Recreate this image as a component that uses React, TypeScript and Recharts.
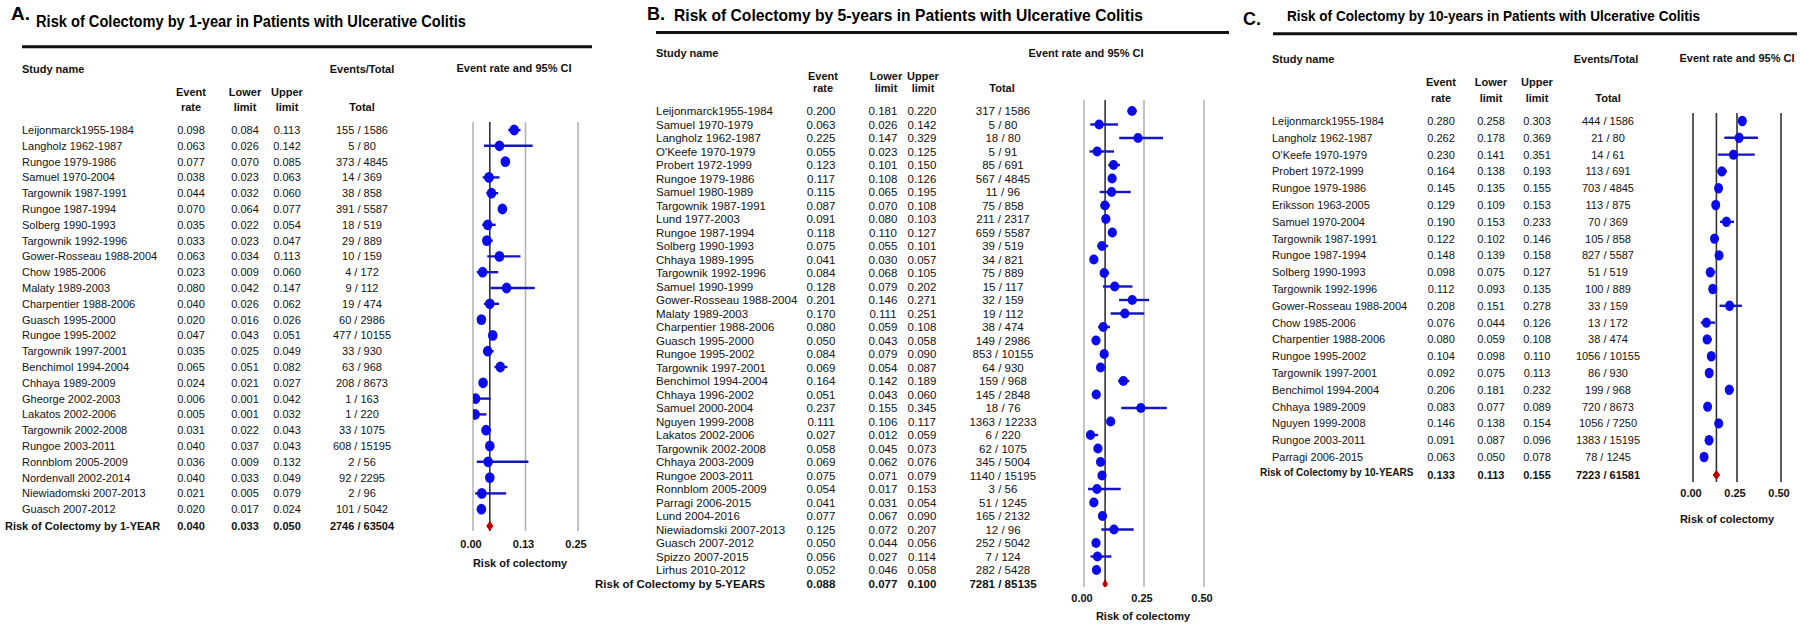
import React from 'react';
import { ComposedChart, Scatter, ErrorBar, XAxis, YAxis, ReferenceLine } from 'recharts';

const FONT = "'Liberation Sans', Arial, Helvetica, sans-serif";
const DOT = '#0b0bea';
const CI = '#1414c0';
const DIAMOND = '#c00000';

// ---- A: 1 year
const studyA = [
  'Leijonmarck1955-1984', 'Langholz 1962-1987', 'Rungoe 1979-1986', 'Samuel 1970-2004',
  'Targownik 1987-1991', 'Rungoe 1987-1994', 'Solberg 1990-1993', 'Targownik 1992-1996',
  'Gower-Rosseau 1988-2004', 'Chow 1985-2006', 'Malaty 1989-2003', 'Charpentier 1988-2006',
  'Guasch 1995-2000', 'Rungoe 1995-2002', 'Targownik 1997-2001', 'Benchimol 1994-2004',
  'Chhaya 1989-2009', 'Gheorge 2002-2003', 'Lakatos 2002-2006', 'Targownik 2002-2008',
  'Rungoe 2003-2011', 'Ronnblom 2005-2009', 'Nordenvall 2002-2014', 'Niewiadomski 2007-2013',
  'Guasch 2007-2012',
];
const rateA = [0.098, 0.063, 0.077, 0.038, 0.044, 0.070, 0.035, 0.033, 0.063, 0.023, 0.080, 0.040, 0.020, 0.047, 0.035, 0.065, 0.024, 0.006, 0.005, 0.031, 0.040, 0.036, 0.040, 0.021, 0.020];
const lowerA = [0.084, 0.026, 0.070, 0.023, 0.032, 0.064, 0.022, 0.023, 0.034, 0.009, 0.042, 0.026, 0.016, 0.043, 0.025, 0.051, 0.021, 0.001, 0.001, 0.022, 0.037, 0.009, 0.033, 0.005, 0.017];
const upperA = [0.113, 0.142, 0.085, 0.063, 0.060, 0.077, 0.054, 0.047, 0.113, 0.060, 0.147, 0.062, 0.026, 0.051, 0.049, 0.082, 0.027, 0.042, 0.032, 0.043, 0.043, 0.132, 0.049, 0.079, 0.024];
const eventsA = [
  '155 / 1586', '5 / 80', '373 / 4845', '14 / 369', '38 / 858', '391 / 5587', '18 / 519',
  '29 / 889', '10 / 159', '4 / 172', '9 / 112', '19 / 474', '60 / 2986', '477 / 10155',
  '33 / 930', '63 / 968', '208 / 8673', '1 / 163', '1 / 220', '33 / 1075', '608 / 15195',
  '2 / 56', '92 / 2295', '2 / 96', '101 / 5042',
];
const pooledA = [0.040, 0.033, 0.050];
const pooledEventsA = '2746 / 63504';
const ticksA = [0, 0.125, 0.25];
const tickLabelsA = ['0.00', '0.13', '0.25'];

// ---- B: 5 years
const studyB = [
  'Leijonmarck1955-1984', 'Samuel 1970-1979', 'Langholz 1962-1987', "O'Keefe 1970-1979",
  'Probert 1972-1999', 'Rungoe 1979-1986', 'Samuel 1980-1989', 'Targownik 1987-1991',
  'Lund 1977-2003', 'Rungoe 1987-1994', 'Solberg 1990-1993', 'Chhaya 1989-1995',
  'Targownik 1992-1996', 'Samuel 1990-1999', 'Gower-Rosseau 1988-2004', 'Malaty 1989-2003',
  'Charpentier 1988-2006', 'Guasch 1995-2000', 'Rungoe 1995-2002', 'Targownik 1997-2001',
  'Benchimol 1994-2004', 'Chhaya 1996-2002', 'Samuel 2000-2004', 'Nguyen 1999-2008',
  'Lakatos 2002-2006', 'Targownik 2002-2008', 'Chhaya 2003-2009', 'Rungoe 2003-2011',
  'Ronnblom 2005-2009', 'Parragi 2006-2015', 'Lund 2004-2016', 'Niewiadomski 2007-2013',
  'Guasch 2007-2012', 'Spizzo 2007-2015', 'Lirhus 2010-2012',
];
const rateB = [0.200, 0.063, 0.225, 0.055, 0.123, 0.117, 0.115, 0.087, 0.091, 0.118, 0.075, 0.041, 0.084, 0.128, 0.201, 0.170, 0.080, 0.050, 0.084, 0.069, 0.164, 0.051, 0.237, 0.111, 0.027, 0.058, 0.069, 0.075, 0.054, 0.041, 0.077, 0.125, 0.050, 0.056, 0.052];
const lowerB = [0.181, 0.026, 0.147, 0.023, 0.101, 0.108, 0.065, 0.070, 0.080, 0.110, 0.055, 0.030, 0.068, 0.079, 0.146, 0.111, 0.059, 0.043, 0.079, 0.054, 0.142, 0.043, 0.155, 0.106, 0.012, 0.045, 0.062, 0.071, 0.017, 0.031, 0.067, 0.072, 0.044, 0.027, 0.046];
const upperB = [0.220, 0.142, 0.329, 0.125, 0.150, 0.126, 0.195, 0.108, 0.103, 0.127, 0.101, 0.057, 0.105, 0.202, 0.271, 0.251, 0.108, 0.058, 0.090, 0.087, 0.189, 0.060, 0.345, 0.117, 0.059, 0.073, 0.076, 0.079, 0.153, 0.054, 0.090, 0.207, 0.056, 0.114, 0.058];
const eventsB = [
  '317 / 1586', '5 / 80', '18 / 80', '5 / 91', '85 / 691', '567 / 4845', '11 / 96', '75 / 858',
  '211 / 2317', '659 / 5587', '39 / 519', '34 / 821', '75 / 889', '15 / 117', '32 / 159',
  '19 / 112', '38 / 474', '149 / 2986', '853 / 10155', '64 / 930', '159 / 968', '145 / 2848',
  '18 / 76', '1363 / 12233', '6 / 220', '62 / 1075', '345 / 5004', '1140 / 15195', '3 / 56',
  '51 / 1245', '165 / 2132', '12 / 96', '252 / 5042', '7 / 124', '282 / 5428',
];
const pooledB = [0.088, 0.077, 0.100];
const pooledEventsB = '7281 / 85135';
const ticksB = [0, 0.25, 0.5];
const tickLabelsB = ['0.00', '0.25', '0.50'];

// ---- C: 10 years
const studyC = [
  'Leijonmarck1955-1984', 'Langholz  1962-1987', "O'Keefe 1970-1979", 'Probert 1972-1999',
  'Rungoe  1979-1986', 'Eriksson 1963-2005', 'Samuel 1970-2004', 'Targownik 1987-1991',
  'Rungoe  1987-1994', 'Solberg 1990-1993', 'Targownik 1992-1996', 'Gower-Rosseau 1988-2004',
  'Chow 1985-2006', 'Charpentier 1988-2006', 'Rungoe 1995-2002', 'Targownik 1997-2001',
  'Benchimol 1994-2004', 'Chhaya 1989-2009', 'Nguyen 1999-2008', 'Rungoe 2003-2011',
  'Parragi 2006-2015',
];
const rateC = [0.280, 0.262, 0.230, 0.164, 0.145, 0.129, 0.190, 0.122, 0.148, 0.098, 0.112, 0.208, 0.076, 0.080, 0.104, 0.092, 0.206, 0.083, 0.146, 0.091, 0.063];
const lowerC = [0.258, 0.178, 0.141, 0.138, 0.135, 0.109, 0.153, 0.102, 0.139, 0.075, 0.093, 0.151, 0.044, 0.059, 0.098, 0.075, 0.181, 0.077, 0.138, 0.087, 0.050];
const upperC = [0.303, 0.369, 0.351, 0.193, 0.155, 0.153, 0.233, 0.146, 0.158, 0.127, 0.135, 0.278, 0.126, 0.108, 0.110, 0.113, 0.232, 0.089, 0.154, 0.096, 0.078];
const eventsC = [
  '444 / 1586', '21 / 80', '14 / 61', '113 / 691', '703 / 4845', '113 / 875', '70 / 369',
  '105 / 858', '827 / 5587', '51 / 519', '100 / 889', '33 / 159', '13 / 172', '38 / 474',
  '1056 / 10155', '86 / 930', '199 / 968', '720 / 8673', '1056 / 7250', '1383 / 15195', '78 / 1245',
];
const pooledC = [0.133, 0.113, 0.155];
const pooledEventsC = '7223 / 61581';
const ticksC = [0, 0.25, 0.5];
const tickLabelsC = ['0.00', '0.25', '0.50'];

type Lay = {
  left: number; width: number;
  plotLeft: number; plotRight: number; plotTop: number; plotBottom: number;
  row0: number; step: number; pooledRow: number;
  name: number; pooledName: number; rate: number; lower: number; upper: number; events: number;
  fs: number; pooledFs: number; pooledDy: number;
  grid: string[]; pooledLine: string; tickDy: number; rx: number; ry: number;
};

const layA: Lay = {
  left: 0, width: 600, plotLeft: 473, plotRight: 578, plotTop: 122, plotBottom: 531,
  row0: 130, step: 15.8, pooledRow: 526,
  name: 22, pooledName: 5, rate: 191, lower: 245, upper: 287, events: 362,
  fs: 11, pooledFs: 11, pooledDy: 0,
  grid: ['#b4b4b4', '#b4b4b4', '#b4b4b4'], pooledLine: '#333', tickDy: 17, rx: 4.8, ry: 5.4,
};
const layB: Lay = {
  left: 590, width: 650, plotLeft: 1084, plotRight: 1204, plotTop: 100, plotBottom: 587,
  row0: 111, step: 13.5, pooledRow: 584,
  name: 656, pooledName: 595, rate: 821, lower: 883, upper: 922, events: 1003,
  fs: 11.5, pooledFs: 11.5, pooledDy: 0,
  grid: ['#b4b4b4', '#b4b4b4', '#b4b4b4'], pooledLine: '#333', tickDy: 15, rx: 4.6, ry: 5,
};
const layC: Lay = {
  left: 1210, width: 590, plotLeft: 1693, plotRight: 1781, plotTop: 113, plotBottom: 482,
  row0: 121, step: 16.8, pooledRow: 475,
  name: 1272, pooledName: 1260, rate: 1441, lower: 1491, upper: 1537, events: 1608,
  fs: 11, pooledFs: 10, pooledDy: -3,
  grid: ['#333', '#333', '#333'], pooledLine: '#333', tickDy: 15, rx: 4.5, ry: 5.2,
};

type PanelProps = {
  lay: Lay; names: string[]; rate: number[]; lower: number[]; upper: number[]; events: string[];
  pooled: number[]; pooledEvents: string; pooledLabel: string; ticks: number[]; tickLabels: string[];
};

function ForestPanel({ lay, names, rate, lower, upper, events, pooled, pooledEvents, pooledLabel, ticks, tickLabels }: PanelProps) {
  const maxX = ticks[ticks.length - 1];
  const rows = names.map((n, i) => ({ x: rate[i], y: i, err: [rate[i] - lower[i], upper[i] - rate[i]] }));
  const pooledY = (lay.pooledRow - lay.row0) / lay.step;
  const yMin = (lay.plotTop - lay.row0) / lay.step;
  const yMax = (lay.plotBottom - lay.row0) / lay.step;
  const pooledData = [{ x: pooled[0], y: pooledY, lo: pooled[1], hi: pooled[2] }];
  const pxPerUnit = (lay.plotRight - lay.plotLeft) / maxX;
  const xH = 30;
  const margin = { top: lay.plotTop, right: lay.left + lay.width - lay.plotRight, bottom: 632 - lay.plotBottom - xH, left: 0 };
  const yTicks = [...rows.map((r) => r.y), pooledY];
  const L = lay.left;

  const rowTick = (p: any) => {
    const v = p.payload.value;
    const y = p.y;
    const isPooled = Math.abs(v - pooledY) < 1e-6;
    const i = Math.round(v);
    const vals = isPooled ? pooled : [rate[i], lower[i], upper[i]];
    const fw = isPooled ? 'bold' : 'normal';
    const common = { fontFamily: FONT, fontSize: lay.fs, fill: '#111', fontWeight: fw, dy: '0.36em' } as any;
    return (
      <g>
        {isPooled ? (
          <text x={lay.pooledName - L} y={y + lay.pooledDy} {...common} fontSize={lay.pooledFs}>{pooledLabel}</text>
        ) : (
          <text x={lay.name - L} y={y} {...common}>{names[i]}</text>
        )}
        <text x={lay.rate - L} y={y} textAnchor="middle" {...common}>{vals[0].toFixed(3)}</text>
        <text x={lay.lower - L} y={y} textAnchor="middle" {...common}>{vals[1].toFixed(3)}</text>
        <text x={lay.upper - L} y={y} textAnchor="middle" {...common}>{vals[2].toFixed(3)}</text>
        <text x={lay.events - L} y={y} textAnchor="middle" {...common}>{isPooled ? pooledEvents : events[i]}</text>
      </g>
    );
  };

  const xTick = (p: any) => (
    <text x={p.x - 2} y={p.y + lay.tickDy} textAnchor="middle" fontFamily={FONT} fontSize={11} fontWeight="bold" fill="#111">
      {tickLabels[p.index]}
    </text>
  );

  const dot = (p: any) => <ellipse cx={p.cx} cy={p.cy} rx={lay.rx} ry={lay.ry} fill={DOT} />;
  const diamond = (p: any) => {
    const hw = Math.max(2.5, ((p.payload.hi - p.payload.lo) / 2) * pxPerUnit);
    const hh = 5;
    return <polygon points={`${p.cx - hw},${p.cy} ${p.cx},${p.cy - hh} ${p.cx + hw},${p.cy} ${p.cx},${p.cy + hh}`} fill={DIAMOND} />;
  };

  return (
    <div style={{ position: 'absolute', left: lay.left, top: 0 }}>
      <ComposedChart width={lay.width} height={632} margin={margin}>
        <XAxis type="number" dataKey="x" domain={[0, maxX]} ticks={ticks} allowDataOverflow interval={0}
          axisLine={false} tickLine={false} tickSize={0} tickMargin={0} height={xH} tick={xTick} />
        <YAxis type="number" dataKey="y" domain={[yMin, yMax]} reversed allowDataOverflow ticks={yTicks} interval={0}
          width={lay.plotLeft - lay.left} axisLine={false} tickLine={false} tickSize={0} tickMargin={0} tick={rowTick} />
        {ticks.map((t, i) => (
          <ReferenceLine key={i} x={t} stroke={lay.grid[i]} strokeWidth={1.6} />
        ))}
        <ReferenceLine x={pooled[0]} stroke={lay.pooledLine} strokeWidth={1.6} />
        <Scatter data={rows} isAnimationActive={false} shape={dot}>
          <ErrorBar dataKey="err" direction="x" width={0} stroke={CI} strokeWidth={2.4} />
        </Scatter>
        <Scatter data={pooledData} isAnimationActive={false} shape={diamond} />
      </ComposedChart>
    </div>
  );
}

const hdr = { fontFamily: FONT, fontSize: 11, fontWeight: 'bold', fill: '#111' } as any;

function Overlay() {
  return (
    <svg width={1800} height={632} style={{ position: 'absolute', left: 0, top: 0, pointerEvents: 'none' }}>
      {/* A */}
      <text x={11} y={20} fontFamily={FONT} fontSize={19} fontWeight="bold">A.</text>
      <text x={36} y={26.5} fontFamily={FONT} fontSize={16} fontWeight="bold" textLength={430} lengthAdjust="spacingAndGlyphs">
        Risk of Colectomy by 1-year in Patients with Ulcerative Colitis
      </text>
      <line x1={22} x2={592} y1={46.7} y2={46.7} stroke="#111" strokeWidth={3} />
      <text x={22} y={73} {...hdr}>Study name</text>
      <text x={362} y={73} textAnchor="middle" {...hdr}>Events/Total</text>
      <text x={514} y={72} textAnchor="middle" {...hdr}>Event rate and 95% CI</text>
      <text x={191} y={96} textAnchor="middle" {...hdr}>Event</text>
      <text x={191} y={111} textAnchor="middle" {...hdr}>rate</text>
      <text x={245} y={96} textAnchor="middle" {...hdr}>Lower</text>
      <text x={245} y={111} textAnchor="middle" {...hdr}>limit</text>
      <text x={287} y={96} textAnchor="middle" {...hdr}>Upper</text>
      <text x={287} y={111} textAnchor="middle" {...hdr}>limit</text>
      <text x={362} y={111} textAnchor="middle" {...hdr}>Total</text>
      <text x={520} y={567} textAnchor="middle" {...hdr}>Risk of colectomy</text>

      {/* B */}
      <text x={647} y={20} fontFamily={FONT} fontSize={18} fontWeight="bold">B.</text>
      <text x={674} y={20.7} fontFamily={FONT} fontSize={17} fontWeight="bold" textLength={469} lengthAdjust="spacingAndGlyphs">
        Risk of Colectomy by 5-years in Patients with Ulcerative Colitis
      </text>
      <line x1={656} x2={1229} y1={32.6} y2={32.6} stroke="#111" strokeWidth={3} />
      <text x={656} y={57} {...hdr}>Study name</text>
      <text x={1086} y={57} textAnchor="middle" {...hdr}>Event rate and 95% CI</text>
      <text x={823} y={80} textAnchor="middle" {...hdr}>Event</text>
      <text x={823} y={92} textAnchor="middle" {...hdr}>rate</text>
      <text x={886} y={80} textAnchor="middle" {...hdr}>Lower</text>
      <text x={886} y={92} textAnchor="middle" {...hdr}>limit</text>
      <text x={923} y={80} textAnchor="middle" {...hdr}>Upper</text>
      <text x={923} y={92} textAnchor="middle" {...hdr}>limit</text>
      <text x={1002} y={92} textAnchor="middle" {...hdr}>Total</text>
      <text x={1143} y={620} textAnchor="middle" {...hdr}>Risk of colectomy</text>

      {/* C */}
      <text x={1243} y={25} fontFamily={FONT} fontSize={18} fontWeight="bold">C.</text>
      <text x={1287} y={20.7} fontFamily={FONT} fontSize={15} fontWeight="bold" textLength={413} lengthAdjust="spacingAndGlyphs">
        Risk of Colectomy by 10-years in Patients with Ulcerative Colitis
      </text>
      <line x1={1273} x2={1797} y1={33.7} y2={33.7} stroke="#111" strokeWidth={3} />
      <text x={1272} y={63} {...hdr}>Study name</text>
      <text x={1606} y={63} textAnchor="middle" {...hdr}>Events/Total</text>
      <text x={1737} y={62} textAnchor="middle" {...hdr}>Event rate and 95% CI</text>
      <text x={1441} y={86} textAnchor="middle" {...hdr}>Event</text>
      <text x={1441} y={102} textAnchor="middle" {...hdr}>rate</text>
      <text x={1491} y={86} textAnchor="middle" {...hdr}>Lower</text>
      <text x={1491} y={102} textAnchor="middle" {...hdr}>limit</text>
      <text x={1537} y={86} textAnchor="middle" {...hdr}>Upper</text>
      <text x={1537} y={102} textAnchor="middle" {...hdr}>limit</text>
      <text x={1608} y={102} textAnchor="middle" {...hdr}>Total</text>
      <text x={1727} y={523} textAnchor="middle" {...hdr}>Risk of colectomy</text>
    </svg>
  );
}

export default function App() {
  return (
    <div style={{ position: 'absolute', left: 0, top: 0, width: 1800, height: 632, background: '#fff', overflow: 'hidden' }}>
      <ForestPanel lay={layA} names={studyA} rate={rateA} lower={lowerA} upper={upperA} events={eventsA}
        pooled={pooledA} pooledEvents={pooledEventsA} pooledLabel="Risk of Colectomy by 1-YEAR" ticks={ticksA} tickLabels={tickLabelsA} />
      <ForestPanel lay={layB} names={studyB} rate={rateB} lower={lowerB} upper={upperB} events={eventsB}
        pooled={pooledB} pooledEvents={pooledEventsB} pooledLabel="Risk of Colectomy by 5-YEARS" ticks={ticksB} tickLabels={tickLabelsB} />
      <ForestPanel lay={layC} names={studyC} rate={rateC} lower={lowerC} upper={upperC} events={eventsC}
        pooled={pooledC} pooledEvents={pooledEventsC} pooledLabel="Risk of Colectomy by 10-YEARS" ticks={ticksC} tickLabels={tickLabelsC} />
      <Overlay />
    </div>
  );
}
